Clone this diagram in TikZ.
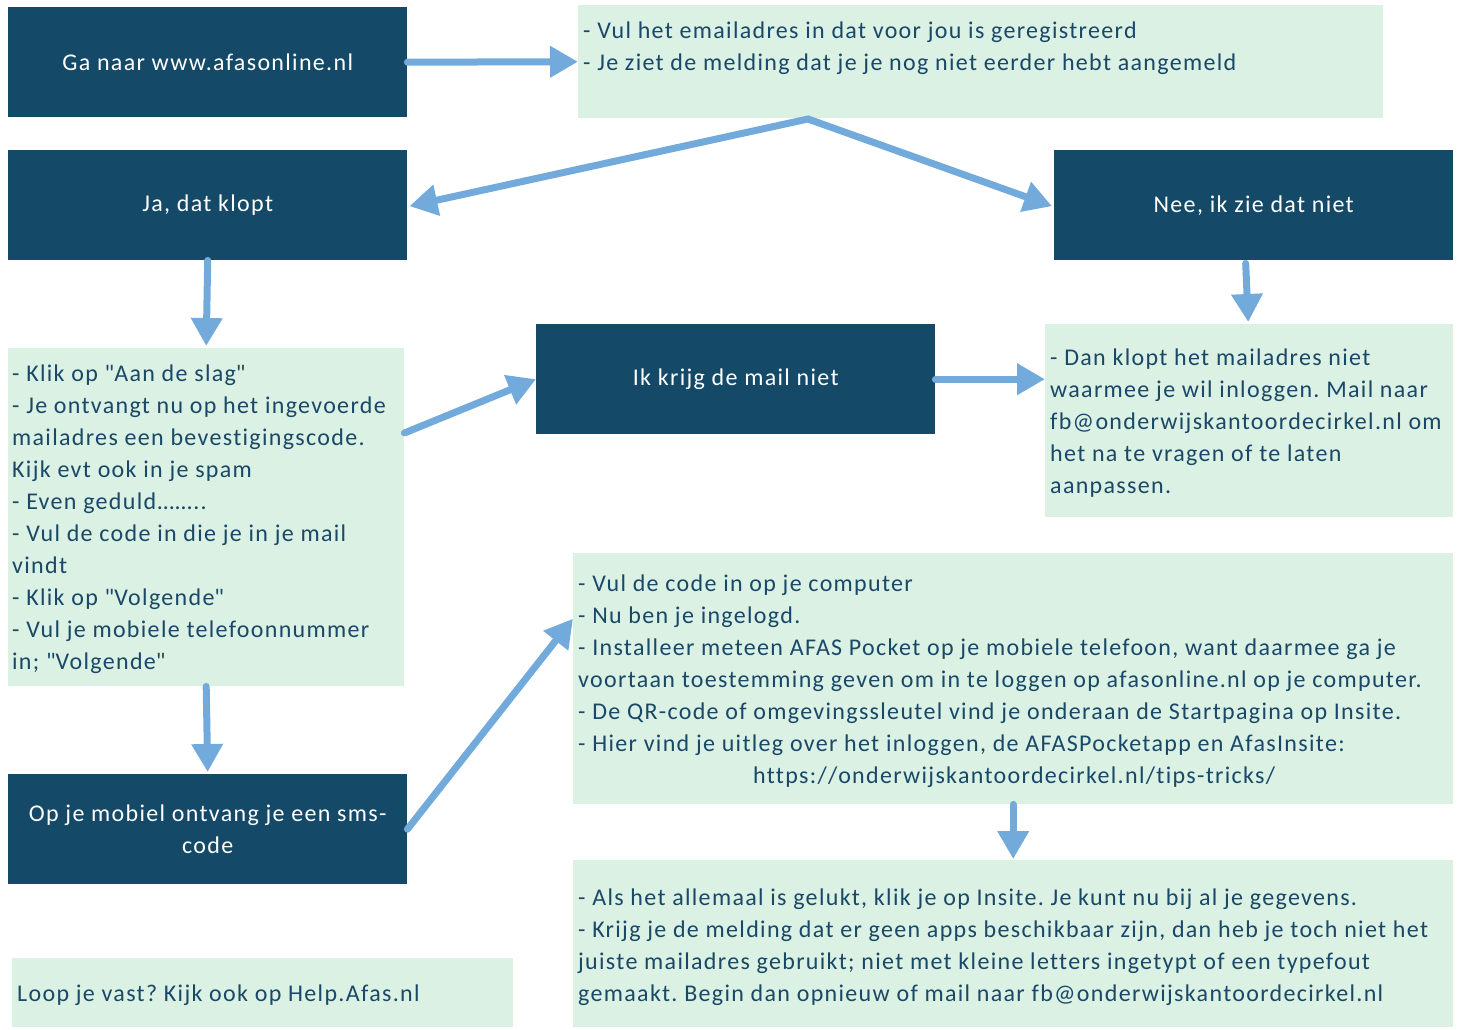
\documentclass[tikz,border=0pt]{standalone}
\usepackage{fontspec}
\setmainfont{Carlito}[LetterSpace=5.5,Ligatures=NoCommon]
\usetikzlibrary{arrows.meta,calc}
\definecolor{cDark}{RGB}{21,73,104}
\definecolor{cLight}{RGB}{218,241,227}
\definecolor{cArrow}{RGB}{114,171,219}
\definecolor{cText}{RGB}{26,72,104}
\newcommand{\qq}{\textquotedbl}
\frenchspacing
\begin{document}
\begin{tikzpicture}[x=1pt,y=-1pt,
  dbox/.style={fill=cDark, draw=none, inner sep=0pt, anchor=north west, text=white,
    font=\fontsize{24}{32}\selectfont, align=center, minimum width=399pt, minimum height=110pt},
  lbox/.style={fill=cLight, draw=none, inner sep=0pt, anchor=north west},
  btext/.style={anchor=west, align=left, inner sep=0pt, text=cText, font=\fontsize{24}{32}\selectfont},
  arr/.style={draw=cArrow, line width=7pt, line cap=round, -{Triangle[length=28pt,width=30pt]}}]
\useasboundingbox (0,0) rectangle (1462,1029);
% dark boxes
\node[dbox] (n1) at (8,7) {Ga naar www.afasonline.nl};
\node[dbox] (n3) at (8,150) {Ja, dat klopt};
\node[dbox] (n4) at (1054,150) {Nee, ik zie dat niet};
\node[dbox] (n6) at (536,324) {Ik krijg de mail niet};
\node[dbox] (n9) at (8,774) {Op je mobiel ontvang je een sms-\\code};
% light boxes
\node[lbox, minimum width=805pt, minimum height=113pt] (b2) at (578,5) {};
\node[lbox, minimum width=396pt, minimum height=338pt] (b5) at (8,348) {};
\node[lbox, minimum width=408pt, minimum height=193pt] (b7) at (1045,324) {};
\node[lbox, minimum width=880pt, minimum height=251pt] (b8) at (573,553) {};
\node[lbox, minimum width=880pt, minimum height=167pt] (b10) at (573,860) {};
\node[lbox, minimum width=501pt, minimum height=69pt] (b11) at (12,958) {};
% texts
\node[btext] (t2) at ([xshift=5pt]b2.west) {- Vul het emailadres in dat voor jou is geregistreerd\\- Je ziet de melding dat je je nog niet eerder hebt aangemeld\\\mbox{}};
\node[btext] (t5) at ([xshift=4pt,yshift=-2pt]b5.west) {- Klik op \qq Aan de slag\qq\\- Je ontvangt nu op het ingevoerde\\mailadres een bevestigingscode.\\Kijk evt ook in je spam\\- Even geduld……..\\- Vul de code in die je in je mail\\vindt\\- Klik op \qq Volgende\qq\\- Vul je mobiele telefoonnummer\\in; \qq Volgende\qq};
\node[btext] (t7) at ([xshift=5pt,yshift=-2pt]b7.west) {- Dan klopt het mailadres niet\\waarmee je wil inloggen. Mail naar\\fb@onderwijskantoordecirkel.nl om\\het na te vragen of te laten\\aanpassen.};
\node[btext, align=flush left, text width=872pt] (t8) at ([xshift=5pt,yshift=-3pt]b8.west) {- Vul de code in op je computer\\- Nu ben je ingelogd.\\- Installeer meteen AFAS Pocket op je mobiele telefoon, want daarmee ga je\\voortaan toestemming geven om in te loggen op afasonline.nl op je computer.\\- De QR-code of omgevingssleutel vind je onderaan de Startpagina op Insite.\\- Hier vind je uitleg over het inloggen, de AFASPocketapp en AfasInsite:\\\mbox{}\hfill https://onderwijskantoordecirkel.nl/tips-tricks/\hfill\mbox{}};
\node[btext] (t10) at ([xshift=5pt,yshift=-4pt]b10.west) {- Als het allemaal is gelukt, klik je op Insite. Je kunt nu bij al je gegevens.\\- Krijg je de melding dat er geen apps beschikbaar zijn, dan heb je toch niet het\\juiste mailadres gebruikt; niet met kleine letters ingetypt of een typefout\\gemaakt. Begin dan opnieuw of mail naar fb@onderwijskantoordecirkel.nl};
\node[btext] (t11) at ([xshift=5pt,yshift=-3pt]b11.west) {Loop je vast? Kijk ook op Help.Afas.nl};
% connectors
\coordinate (split) at (808,119);
\draw[arr] (n1.east) -- (b2.west);
\draw[draw=cArrow, line width=7pt, line join=miter, {Triangle[length=28pt,width=30pt]}-{Triangle[length=28pt,width=30pt]}] ([xshift=2pt,yshift=-1pt]n3.east) -- (split) -- ([xshift=-2pt,yshift=-1pt]n4.west);
\draw[arr] (n3.south) -- ([yshift=2pt]b5.north);
\draw[arr] ([xshift=-8pt,yshift=-3pt]n4.south) -- ([xshift=-1pt,yshift=2pt]b7.north);
\draw[arr] ($(b5.north east)+(0,85)$) -- (n6.west);
\draw[arr] (n6.east) -- (b7.west |- n6.east);
\draw[arr] (b5.south) -- ([yshift=2pt]n9.north);
\draw[arr] (n9.east) -- ([yshift=60pt]b8.west);
\draw[arr] (b8.south) -- ([yshift=1pt]b10.north);
\end{tikzpicture}
\end{document}
